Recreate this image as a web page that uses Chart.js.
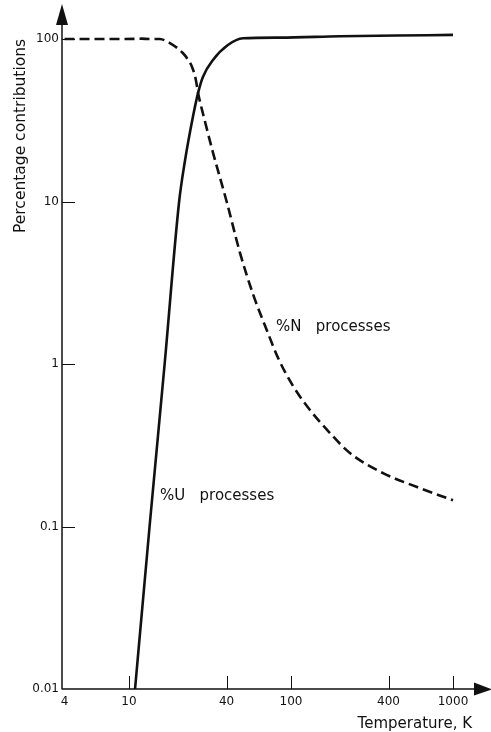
<!DOCTYPE html>
<html>
<head>
<meta charset="utf-8">
<script src="https://cdn.jsdelivr.net/npm/chart.js@4.4.1/dist/chart.umd.min.js"></script>
<style>
  html, body { margin: 0; padding: 0; background: #fff; }
  #wrap { position: relative; width: 491px; height: 732px; }
</style>
</head>
<body>
<div id="wrap"><canvas id="c" width="491" height="732"></canvas></div>
<script>
// Temperatures (K) and percentage contributions of Umklapp and normal processes
const uTemps = [10.9, 13.4, 16.6, 20.4, 22.2, 24.8, 26.7, 28.6, 33.0, 40.8, 50.6, 85.5, 200, 450, 1000];
const uPercent = [0.01, 0.1, 1, 10, 18, 33.1, 46.6, 58.4, 74.3, 91.8, 101, 102, 104, 105, 106];

const nTemps = [4, 8, 12, 15.5, 17.9, 21.5, 23.1, 24.5, 25.8, 26.7, 29.4, 33.0, 40.3, 48.4, 58.3, 72.1, 83.2, 103, 131, 174, 231, 370, 600, 1000];
const nPercent = [100, 100, 100.5, 100, 94.4, 82, 74.8, 67.3, 56.8, 46.6, 31.3, 20.0, 9.79, 4.85, 2.69, 1.55, 1.09, 0.732, 0.521, 0.376, 0.283, 0.213, 0.175, 0.145];

const xTickValues = [4, 10, 40, 100, 400, 1000];
const yTickValues = [0.01, 0.1, 1, 10, 100];
const yTickLabels = ['0.01', '0.1', '1', '10', '100'];

const FONT = '"DejaVu Sans", sans-serif';
const INK = '#111';

function pts(xs, ys) { return xs.map((x, i) => ({ x: x, y: ys[i] })); }

// Axes with arrowheads, inward tick marks and free-standing labels
const decorations = {
  id: 'decorations',
  afterDraw(chart) {
    const ctx = chart.ctx;
    const xs = chart.scales.x, ys = chart.scales.y;
    const x0 = 62, y0 = ys.getPixelForValue(0.01);
    ctx.save();
    ctx.strokeStyle = INK;
    ctx.fillStyle = INK;

    // axis lines
    ctx.lineWidth = 1.5;
    ctx.beginPath();
    ctx.moveTo(x0, y0 + 0.5);
    ctx.lineTo(x0, 24);
    ctx.moveTo(x0, y0);
    ctx.lineTo(475, y0);
    ctx.stroke();

    // arrowheads
    ctx.beginPath();
    ctx.moveTo(56, 25); ctx.lineTo(68, 25); ctx.lineTo(62, 4); ctx.closePath();
    ctx.fill();
    ctx.beginPath();
    ctx.moveTo(474, y0 - 6.5); ctx.lineTo(474, y0 + 6.5); ctx.lineTo(492, y0 + 0.5); ctx.closePath();
    ctx.fill();

    // inward ticks
    ctx.lineWidth = 1;
    ctx.beginPath();
    yTickValues.forEach(v => {
      if (v === 0.01) return;
      const py = Math.round(ys.getPixelForValue(v)) + 0.5;
      ctx.moveTo(x0, py); ctx.lineTo(x0 + 13, py);
    });
    xTickValues.forEach(v => {
      if (v === 4) return;
      const px = Math.round(xs.getPixelForValue(v)) + 0.5;
      ctx.moveTo(px, y0); ctx.lineTo(px, y0 - 13);
    });
    ctx.stroke();

    // axis titles
    ctx.font = '15px ' + FONT;
    ctx.textBaseline = 'alphabetic';
    ctx.textAlign = 'right';
    ctx.fillText('Temperature, K', 472, 728);

    ctx.save();
    ctx.translate(25, 233);
    ctx.rotate(-Math.PI / 2);
    ctx.textAlign = 'left';
    ctx.font = '15.5px ' + FONT;
    ctx.fillText('Percentage contributions', 0, 0);
    ctx.restore();

    // curve labels
    ctx.textAlign = 'left';
    ctx.font = '15px ' + FONT;
    ctx.fillText('%N   processes', 276, 331);
    ctx.fillText('%U   processes', 160, 500);
    ctx.restore();
  }
};

new Chart(document.getElementById('c'), {
  type: 'line',
  data: {
    datasets: [
      {
        label: '% U processes',
        data: pts(uTemps, uPercent),
        borderColor: INK,
        borderWidth: 2.6,
        pointRadius: 0,
        cubicInterpolationMode: 'monotone',
        clip: false
      },
      {
        label: '% N processes',
        data: pts(nTemps, nPercent),
        borderColor: INK,
        borderWidth: 2.6,
        borderDash: [10, 5],
        pointRadius: 0,
        cubicInterpolationMode: 'monotone',
        clip: false
      }
    ]
  },
  options: {
    responsive: false,
    animation: false,
    devicePixelRatio: 1,
    layout: { padding: { top: 39, right: 38, left: 0, bottom: 0 } },
    plugins: { legend: { display: false }, tooltip: { enabled: false } },
    scales: {
      x: {
        type: 'logarithmic',
        min: 3.86,
        max: 1000,
        grid: { display: false, drawTicks: false },
        border: { display: false },
        afterBuildTicks: s => { s.ticks = xTickValues.map(v => ({ value: v })); },
        afterFit: s => { s.height = 43; },
        ticks: {
          autoSkip: false,
          maxRotation: 0,
          padding: 6,
          color: INK,
          font: { family: FONT, size: 12 },
          callback: v => String(v)
        }
      },
      y: {
        type: 'logarithmic',
        min: 0.01,
        max: 100,
        grid: { display: false, drawTicks: false },
        border: { display: false },
        afterBuildTicks: s => { s.ticks = yTickValues.map(v => ({ value: v })); },
        afterFit: s => { s.width = 62; },
        ticks: {
          autoSkip: false,
          padding: 3,
          color: INK,
          font: { family: FONT, size: 12 },
          callback: v => yTickLabels[yTickValues.indexOf(v)]
        }
      }
    }
  },
  plugins: [decorations]
});
</script>
</body>
</html>
